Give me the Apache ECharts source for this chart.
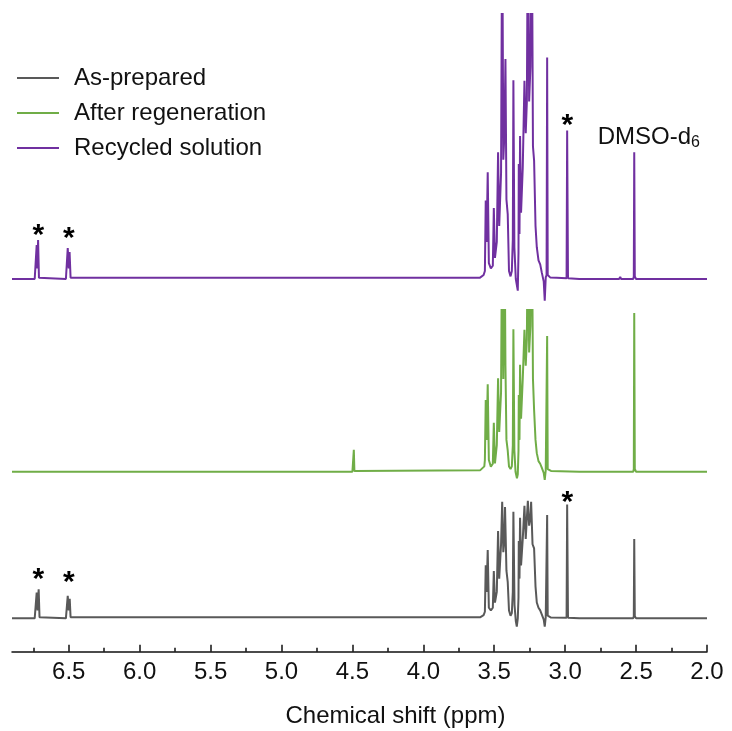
<!DOCTYPE html>
<html><head><meta charset="utf-8">
<script src="https://cdn.jsdelivr.net/npm/echarts@6/dist/echarts.min.js"></script>
<style>html,body{margin:0;padding:0;background:#fff}#c{width:732px;height:731px}</style>
</head><body><div id="c"></div>
<script>
// Series names (legend order)
const seriesNames = ['As-prepared', 'After regeneration', 'Recycled solution'];
// x-axis tick labels (ppm)
const majorTicks = [6.5, 6.0, 5.5, 5.0, 4.5, 4.0, 3.5, 3.0, 2.5, 2.0];
const minorTicks = [6.75, 6.25, 5.75, 5.25, 4.75, 4.25, 3.75, 3.25, 2.75, 2.25];

// Spectrum traces [ppm, relative intensity]
const recycled = [
  [6.9,0],[6.74,0],[6.732,0.5],[6.726,12.8],[6.721,4],[6.716,14.7],[6.71,0.5],[6.70,0],
  [6.52,0],[6.513,0.5],[6.507,11.7],[6.500,4],[6.494,10.2],[6.487,0.5],[6.48,0],
  [3.60,0.5],[3.575,1.5],[3.566,3],[3.560,29.6],[3.554,14],[3.546,40.3],[3.538,6],[3.524,4],
  [3.510,5],[3.503,26.8],[3.495,8],[3.482,14],[3.473,47.8],[3.465,20],[3.452,40],[3.444,140],
  [3.436,45],[3.428,55],[3.421,83],[3.414,30],[3.405,24.5],[3.396,3],[3.385,1],[3.376,3],
  [3.369,15],[3.365,75],[3.358,12],[3.348,0],[3.334,-4.4],[3.329,10],[3.327,43.4],[3.322,17],
  [3.318,54],[3.311,25],[3.299,42],[3.287,74.8],[3.278,55],[3.270,67],[3.263,140],[3.254,67],
  [3.245,80],[3.235,140],[3.227,50],[3.219,44.7],[3.209,20],[3.200,12],[3.188,7],[3.176,5.5],
  [3.165,2.5],[3.158,3],[3.151,-1],[3.144,-8.2],[3.137,0.6],[3.131,1.5],[3.127,83.6],[3.123,1.5],
  [3.106,0.6],[3.06,0.5],[2.99,0.3],[2.986,56],[2.980,0.3],[2.9,0],[2.62,0],[2.612,0.8],[2.605,0],
  [2.52,0],[2.516,1],[2.513,47.8],[2.509,1],[2.50,0],[2.395,0],[2.389,0.6],[2.383,0],[2.0,0]
];
const regenerated = [
  [6.9,0],[4.50,0],[4.494,0.3],[4.490,8.3],[4.486,0.3],[4.48,0],
  [3.60,0.5],[3.57,2],[3.566,4.4],[3.560,27],[3.554,12],[3.546,33],[3.538,4.4],[3.524,1.9],
  [3.510,3],[3.503,18.5],[3.495,3.1],[3.482,10],[3.473,35.2],[3.465,15],[3.452,30],[3.444,100],
  [3.436,35],[3.428,100],[3.421,40],[3.414,12],[3.405,8],[3.396,2],[3.385,1],[3.376,2],
  [3.369,10],[3.365,53.7],[3.358,8],[3.350,0],[3.340,-2.5],[3.334,-1],[3.329,8],[3.327,28.9],
  [3.322,12],[3.318,40.3],[3.311,20],[3.299,35],[3.287,53.5],[3.278,40],[3.270,50],[3.263,100],
  [3.254,45],[3.245,55],[3.235,100],[3.227,35],[3.219,23.3],[3.209,12],[3.200,7],[3.188,4],
  [3.176,3],[3.165,1.5],[3.151,-0.5],[3.144,-3.1],[3.137,0.5],[3.131,1],[3.127,51.2],[3.123,1],
  [3.10,0.3],[2.9,0],[2.52,0],[2.516,1],[2.513,59.9],[2.509,1],[2.5,0],[2.0,0]
];
const asPrepared = [
  [6.9,0],[6.74,0],[6.732,0.4],[6.726,9.7],[6.720,3],[6.712,11],[6.706,0.4],[6.70,0],
  [6.52,0],[6.513,0.4],[6.507,8.5],[6.500,3],[6.493,7.4],[6.487,0.4],[6.48,0],
  [3.60,0.4],[3.575,1.2],[3.566,2.5],[3.560,20.1],[3.554,10],[3.546,25.8],[3.538,4],[3.524,3],
  [3.510,4],[3.503,17.9],[3.495,6],[3.482,10],[3.473,33],[3.465,15],[3.452,28],[3.444,44],
  [3.436,25],[3.428,30],[3.424,42.1],[3.414,18],[3.405,13.8],[3.396,3],[3.385,1],[3.376,2],
  [3.369,10],[3.365,40.3],[3.357,5],[3.348,-1],[3.341,-3.1],[3.334,0],[3.329,8],[3.327,29.2],
  [3.322,15],[3.318,38],[3.311,20],[3.299,30],[3.287,42.5],[3.278,30],[3.270,38],[3.263,44.4],
  [3.254,35],[3.245,38],[3.240,44],[3.230,28],[3.219,26.4],[3.209,12],[3.200,6],[3.188,4],
  [3.176,3],[3.165,1.5],[3.151,-0.5],[3.144,-3.1],[3.137,0.5],[3.131,1],[3.127,39],[3.123,1],
  [3.10,0.3],[2.99,0.2],[2.986,43],[2.980,0.2],[2.9,0],[2.52,0],[2.516,0.8],[2.513,30],
  [2.509,0.8],[2.50,0],[2.0,0]
];
// Annotation marks [ppm, intensity]
const recycledStars = [[6.715, 18.5], [6.50, 17.4], [2.985, 60]];
const preparedStars = [[6.715, 17], [6.50, 15.8], [2.985, 46]];
const dmsoLabel = [2.41, 53.6];

const colors = ['#595959', '#70AD47', '#7030A0'];
const FONT = 'Liberation Sans, Arial, Helvetica, sans-serif';
const starLabel = {show: true, formatter: '*', color: '#000', fontSize: 30, fontWeight: 'bold', fontFamily: FONT, offset: [0, 6]};

function hiddenX(i) {
  return {gridIndex: i, type: 'value', min: 2.0, max: 6.9, inverse: true, show: false};
}

const chart = echarts.init(document.getElementById('c'), null, {renderer: 'canvas'});
chart.setOption({
  animation: false,
  backgroundColor: '#fff',
  color: colors,
  grid: [
    {left: 12, right: 25, top: 14, height: 291.5},
    {left: 12, right: 25, top: 310, height: 188.2},
    {left: 12, right: 25, top: 486, bottom: 79.3}
  ],
  legend: {
    orient: 'vertical', left: 12, top: 61, itemWidth: 42, itemHeight: 14, itemGap: 11,
    data: seriesNames, icon: 'path://M0,0L42,0L42,2L0,2Z',
    textStyle: {fontSize: 24, fontFamily: FONT, color: '#111', padding: [0, 0, 0, 10]}
  },
  xAxis: [
    hiddenX(0), hiddenX(1),
    {
      gridIndex: 2, type: 'value', min: 2.0, max: 6.9, inverse: true, position: 'bottom',
      name: 'Chemical shift (ppm)', nameLocation: 'middle', nameGap: 53,
      nameTextStyle: {fontSize: 24, fontFamily: FONT, color: '#111', padding: [0, 0, 0, 72]},
      axisLine: {show: true, onZero: false, lineStyle: {color: '#111', width: 1.5}},
      axisTick: {show: true, inside: true, length: 7, customValues: majorTicks, lineStyle: {color: '#111', width: 1.5}},
      axisLabel: {show: true, customValues: majorTicks, margin: 9, fontSize: 24, fontFamily: FONT, color: '#111',
        formatter: v => v.toFixed(1)},
      splitLine: {show: false}
    },
    {
      gridIndex: 2, type: 'value', min: 2.0, max: 6.9, inverse: true, position: 'bottom',
      axisLine: {show: false, onZero: false},
      axisTick: {show: true, inside: true, length: 4, customValues: minorTicks, lineStyle: {color: '#111', width: 1.5}},
      axisLabel: {show: false}, splitLine: {show: false}
    }
  ],
  yAxis: [
    {gridIndex: 0, type: 'value', min: -10, max: 100, show: false},
    {gridIndex: 1, type: 'value', min: -10, max: 61, show: false},
    {gridIndex: 2, type: 'value', min: -12.6, max: 50, show: false}
  ],
  series: [
    {
      name: seriesNames[0], type: 'line', xAxisIndex: 2, yAxisIndex: 2, data: asPrepared,
      symbol: 'none', clip: true, lineStyle: {width: 2, color: colors[0]},
      markPoint: {symbol: 'circle', symbolSize: 0, silent: true, label: starLabel,
        data: preparedStars.map(c => ({coord: c}))}
    },
    {
      name: seriesNames[1], type: 'line', xAxisIndex: 1, yAxisIndex: 1, data: regenerated,
      symbol: 'none', clip: true, lineStyle: {width: 2, color: colors[1]}
    },
    {
      name: seriesNames[2], type: 'line', xAxisIndex: 0, yAxisIndex: 0, data: recycled,
      symbol: 'none', clip: true, lineStyle: {width: 2, color: colors[2]},
      markPoint: {
        symbol: 'circle', symbolSize: 0, silent: true,
        data: recycledStars.map(c => ({coord: c, label: starLabel}))
          .concat([{coord: dmsoLabel, label: {show: true, formatter: 'DMSO-d{s|6}', color: '#111', fontSize: 24, fontFamily: FONT,
            rich: {s: {fontSize: 16, fontFamily: FONT, color: '#111', verticalAlign: 'bottom', padding: [12, 0, 0, 0]}}}}])
      }
    }
  ]
});
</script></body></html>
